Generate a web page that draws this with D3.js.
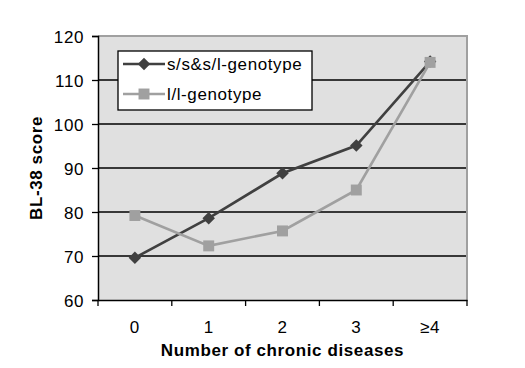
<!DOCTYPE html>
<html><head><meta charset="utf-8">
<script src="https://cdn.jsdelivr.net/npm/d3@7"></script>
<style>body{margin:0;background:#fff}svg{display:block}text{font-family:"Liberation Sans",Arial,sans-serif}</style>
</head><body>
<script>
const categories = ["0","1","2","3","≥4"];
const seriesNames = ["s/s&s/l-genotype","l/l-genotype"];
const ssSl = [69.6, 78.6, 88.8, 95.1, 114.2];
const ll = [79.2, 72.3, 75.7, 85.0, 114.0];
const yTicks = [60,70,80,90,100,110,120];

const W=525,H=368;
const m={l:98,r:58,t:36,b:68};
const LS="0.6px";
const svg=d3.select("body").append("svg").attr("width",W).attr("height",H);
const x=d3.scaleBand().domain(categories).range([m.l,W-m.r]);
const y=d3.scaleLinear().domain([60,120]).range([H-m.b,m.t]);

svg.append("rect").attr("x",m.l).attr("y",m.t).attr("width",W-m.r-m.l).attr("height",H-m.b-m.t).attr("fill","#e0e0e0");
svg.append("g").selectAll("line").data(yTicks.filter(d=>d>60&&d<120)).join("line")
 .attr("x1",m.l).attr("x2",W-m.r).attr("y1",d=>y(d)).attr("y2",d=>y(d)).attr("stroke","#000").attr("stroke-width",1.3);
svg.append("path").attr("d",`M${m.l},${y(120)}H${W-m.r}V${y(60)}`).attr("fill","none").attr("stroke","#a0a0a0").attr("stroke-width",2);

const ya=svg.append("g").attr("transform",`translate(${m.l},0)`).call(d3.axisLeft(y).tickValues(yTicks).tickSize(6).tickPadding(8));
const xa=svg.append("g").attr("transform",`translate(0,${y(60)})`).call(d3.axisBottom(x).tickSize(0));
const bounds=categories.map(c=>x(c)).concat([x(categories[4])+x.bandwidth()]);
svg.append("g").selectAll("line").data(bounds).join("line").attr("x1",d=>d).attr("x2",d=>d).attr("y1",y(60)).attr("y2",y(60)+6).attr("stroke","#000").attr("stroke-width",1.3);
[ya,xa].forEach(a=>{a.selectAll("path").attr("stroke","#000").attr("stroke-width",1.5);a.selectAll("line").attr("stroke","#000").attr("stroke-width",1.3);a.selectAll("text").attr("font-size",17).attr("fill","#000").style("letter-spacing",LS).style("font-family","'Liberation Sans',Arial,sans-serif");});
ya.selectAll("text").attr("dy","0.36em");
xa.selectAll("text").attr("y",33).attr("dy",0);

const cx=c=>x(c)+x.bandwidth()/2;
const line=d3.line().x((d,i)=>cx(categories[i])).y(d=>y(d));
const cols=["#404040","#a0a0a0"];
const diamond=d3.symbol().type(d3.symbolSquare).size(78);
const square=d3.symbol().type(d3.symbolSquare).size(120);
const rot=[45,0];
const syms=[diamond,square];
[ssSl,ll].forEach((s,k)=>{
  const g=svg.append("g");
  g.append("path").datum(s).attr("d",line).attr("fill","none").attr("stroke",cols[k]).attr("stroke-width",2.6);
  g.selectAll("path.m").data(s).join("path").attr("class","m").attr("transform",(d,i)=>`translate(${cx(categories[i])},${y(d)}) rotate(${rot[k]})`).attr("d",syms[k]()).attr("fill",cols[k]);
});
svg.append("text").attr("x",(m.l+W-m.r)/2).attr("y",356).attr("text-anchor","middle").attr("font-weight","bold").attr("font-size",17).style("letter-spacing",LS).text("Number of chronic diseases");
svg.append("text").attr("transform",`translate(42,168) rotate(-90)`).attr("text-anchor","middle").attr("font-weight","bold").attr("font-size",17).style("letter-spacing",LS).text("BL-38 score");

const lg=svg.append("g");
lg.append("rect").attr("x",118).attr("y",51).attr("width",194).attr("height",59).attr("fill","#fff").attr("stroke","#000").attr("stroke-width",1.3);
seriesNames.forEach((n,k)=>{
  const yy=k?94:64;
  lg.append("line").attr("x1",123).attr("x2",165).attr("y1",yy).attr("y2",yy).attr("stroke",cols[k]).attr("stroke-width",2.6);
  lg.append("path").attr("transform",`translate(144,${yy}) rotate(${rot[k]})`).attr("d",syms[k]()).attr("fill",cols[k]);
  lg.append("text").attr("x",167).attr("y",yy).attr("dy","0.36em").attr("font-size",17).style("letter-spacing",LS).text(n);
});
</script>
</body></html>
